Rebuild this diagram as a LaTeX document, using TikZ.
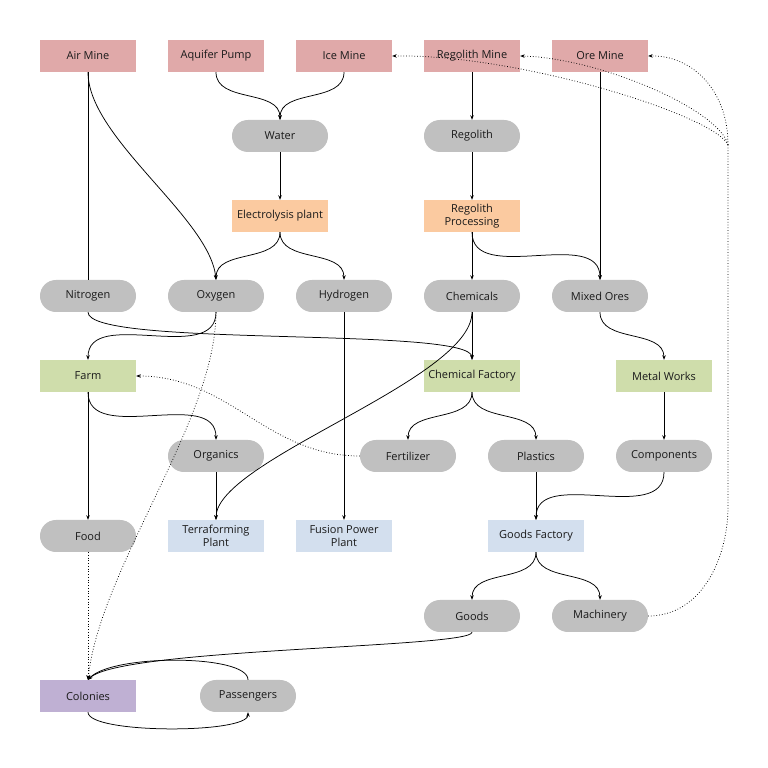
\documentclass[tikz,border=0pt]{standalone}
\usepackage{fontspec}
\setmainfont{Open Sans}
\usepackage{xcolor}
\usepackage{tikz}
\usetikzlibrary{arrows.meta, positioning, calc}

\definecolor{minecol}{HTML}{E0A9A9}
\definecolor{proccol}{HTML}{FBCAA0}
\definecolor{factcol}{HTML}{CFDDAB}
\definecolor{plantcol}{HTML}{D3DFEE}
\definecolor{colcol}{HTML}{BFB0D3}
\definecolor{rescol}{HTML}{C0C0C0}
\definecolor{txtcol}{HTML}{1A1A1A}

\begin{document}
\begin{tikzpicture}[
    x=1pt, y=1pt,
    box/.style={rectangle, minimum width=96pt, minimum height=32pt, inner sep=1pt, align=center, text=txtcol, font=\fontsize{11}{12.5}\selectfont},
    mine/.style={box, fill=minecol},
    process/.style={box, fill=proccol},
    factory/.style={box, fill=factcol},
    plant/.style={box, fill=plantcol},
    colony/.style={box, fill=colcol},
    resource/.style={box, fill=rescol, rounded corners=15.9pt},
    flow/.style={-{Stealth[length=4.5pt,width=3.5pt]}, line width=0.75pt},
    supply/.style={flow, dotted}
]
\useasboundingbox (0,0) rectangle (768,768);

% Row 1 - mines
\node[mine] (airmine) at (88,712) {Air Mine};
\node[mine] (aquifer) at (216,712) {Aquifer Pump};
\node[mine] (icemine) at (344,712) {Ice Mine};
\node[mine] (regmine) at (472,712) {Regolith Mine};
\node[mine] (oremine) at (600,712) {Ore Mine};

% Row 2 and 3 - raw resources and processing
\node[resource] (water) at (280,632) {Water};
\node[resource] (regolith) at (472,632) {Regolith};
\node[process] (electro) at (280,552) {Electrolysis plant};
\node[process] (regproc) at (472,552) {Regolith\\Processing};

% Row 4 - gases and chemicals
\node[resource] (nitrogen) at (88,472) {Nitrogen};
\node[resource] (oxygen) at (216,472) {Oxygen};
\node[resource] (hydrogen) at (344,472) {Hydrogen};
\node[resource] (chemicals) at (472,472) {Chemicals};
\node[resource] (ores) at (600,472) {Mixed Ores};

% Row 5 - factories
\node[factory] (farm) at (88,392) {Farm};
\node[factory] (chemfact) at (472,392) {Chemical Factory};
\node[factory] (metal) at (664,392) {Metal Works};

% Row 6 - intermediate goods
\node[resource] (organics) at (216,312) {Organics};
\node[resource] (fertilizer) at (408,312) {Fertilizer};
\node[resource] (plastics) at (536,312) {Plastics};
\node[resource] (components) at (664,312) {Components};

% Row 7 - plants
\node[resource] (food) at (88,232) {Food};
\node[plant] (terra) at (216,232) {Terraforming\\Plant};
\node[plant] (fusion) at (344,232) {Fusion Power\\Plant};
\node[plant] (goodsfact) at (536,232) {Goods Factory};

% Row 8 and 9 - goods and colonies
\node[resource] (goods) at (472,152) {Goods};
\node[resource] (machinery) at (600,152) {Machinery};
\node[colony] (colonies) at (88,72) {Colonies};
\node[resource] (passengers) at (248,72) {Passengers};

% Machinery feedback hub
\coordinate (bend) at (728,262);
\coordinate (hub) at (728,623);

% Water and electrolysis
\draw[flow] (aquifer.south) to[out=-90,in=90] (water.north);
\draw[flow] (icemine.south) to[out=-90,in=90] (water.north);
\draw[flow] (water) -- (electro);
\draw[flow] (electro.south) to[out=-90,in=90] (oxygen.north);
\draw[flow] (electro.south) to[out=-90,in=90] (hydrogen.north);

% Air mine
\draw[line width=0.75pt] (airmine.south) -- (nitrogen.north);
\draw[flow] (airmine.south) .. controls (88,630) and (210,550) .. (oxygen.north);

% Regolith and ores
\draw[flow] (regmine) -- (regolith);
\draw[flow] (regolith) -- (regproc);
\draw[flow] (regproc) -- (chemicals);
\draw[flow] (regproc.south) to[out=-90,in=90] (ores.north);
\draw[flow] (oremine) -- (ores);
\draw[flow] (ores.south) to[out=-90,in=90] (metal.north);

% Gases and chemicals
\draw[flow] (nitrogen.south) .. controls (88,420) and (472,442) .. (chemfact.north);
\draw[flow] (oxygen.south) to[out=-90,in=90] (farm.north);
\draw[flow] (chemicals) -- (chemfact);
\draw[flow] (chemicals.south) .. controls (472,388) and (216,308) .. (terra.north);
\draw[flow] (hydrogen) -- (fusion);

% Factories
\draw[flow] (farm) -- (food);
\draw[flow] (farm.south) to[out=-90,in=90] (organics.north);
\draw[flow] (chemfact.south) to[out=-90,in=90] (fertilizer.north);
\draw[flow] (chemfact.south) to[out=-90,in=90] (plastics.north);
\draw[flow] (metal) -- (components);
\draw[flow] (organics) -- (terra);
\draw[flow] (plastics) -- (goodsfact);
\draw[flow] (components.south) to[out=-90,in=90] (goodsfact.north);
\draw[flow] (goodsfact.south) to[out=-90,in=90] (goods.north);
\draw[flow] (goodsfact.south) to[out=-90,in=90] (machinery.north);
\draw[supply] (fertilizer.west) to[out=180,in=0] (farm.east);

% Colonies
\draw[supply] (food) -- (colonies);
\draw[supply] (oxygen.south) .. controls (216,348) and (100,200) .. (colonies.north);
\draw[flow] (goods.south) .. controls (472,120) and (120,120) .. (colonies.north);
\draw[flow] (passengers.north) .. controls (248,114) and (112,114) .. (colonies.north);
\draw[flow] (colonies.south) .. controls (88,34) and (248,34) .. (passengers.south);

% Machinery back to the mines
\draw[line width=0.75pt, dotted] (machinery.east) to[out=0,in=-90] (bend) -- (hub);
\draw[supply] (hub) .. controls (728,680) and (690,713) .. (oremine.east);
\draw[supply] (hub) .. controls (720,658) and (600,710) .. (regmine.east);
\draw[supply] (hub) .. controls (716,652) and (520,714) .. (icemine.east);
\end{tikzpicture}
\end{document}
